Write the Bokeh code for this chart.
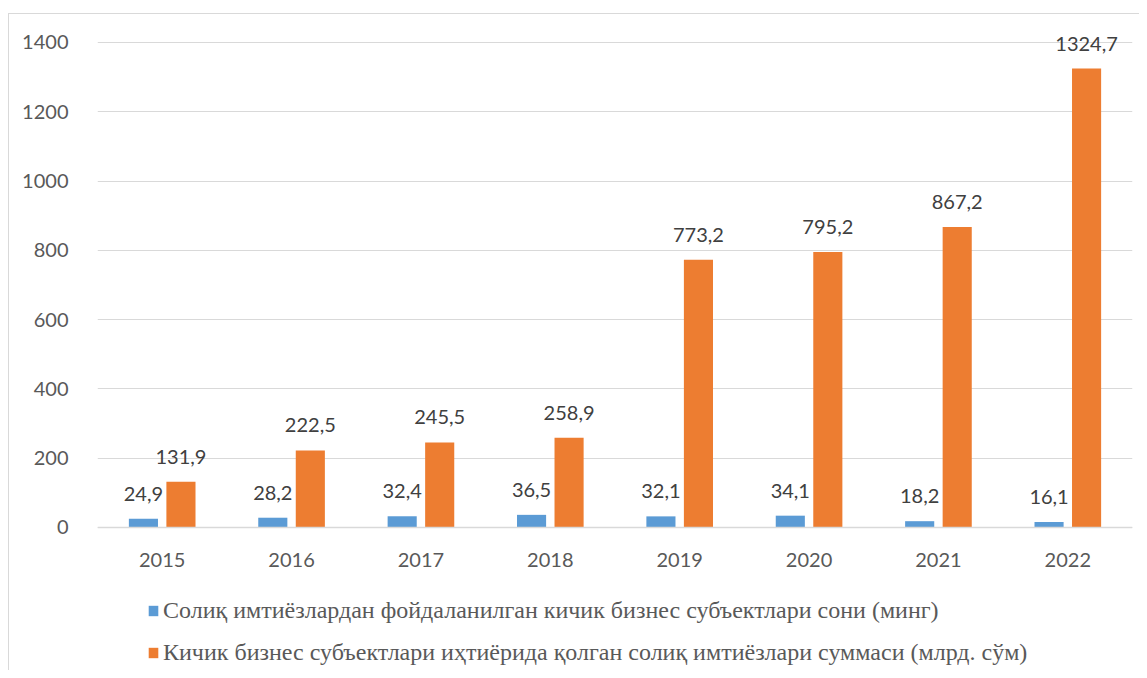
from bokeh.plotting import figure
from bokeh.models import ColumnDataSource, FactorRange, Legend, LegendItem, Range1d, FixedTicker
from bokeh.transform import dodge
from bokeh.core.properties import value
from bokeh.embed import file_html
from bokeh.resources import INLINE

years = ["2015", "2016", "2017", "2018", "2019", "2020", "2021", "2022"]
subjects = [24.9, 28.2, 32.4, 36.5, 32.1, 34.1, 18.2, 16.1]
amounts = [131.9, 222.5, 245.5, 258.9, 773.2, 795.2, 867.2, 1324.7]
series_names = [
    "Солиқ имтиёзлардан фойдаланилган кичик бизнес субъектлари сони (минг)",
    "Кичик бизнес субъектлари иҳтиёрида қолган солиқ имтиёзлари суммаси (млрд. сўм)",
]
y_ticks = [0, 200, 400, 600, 800, 1000, 1200, 1400]

def fmt(v):
    return f"{v:.1f}".replace(".", ",")

src = ColumnDataSource(dict(
    years=years,
    subjects=subjects,
    amounts=amounts,
    sub_labels=[fmt(v) for v in subjects],
    amt_labels=[fmt(v) for v in amounts],
))

BLUE = "#5B9BD5"
ORANGE = "#ED7D31"
TXT = "#595959"

# plot area extends below zero to leave room for the category labels and legend
p = figure(
    x_range=FactorRange(*years, range_padding=0),
    y_range=Range1d(-415.7, 1480.8),
    width=1131, height=657,
    output_backend="svg", toolbar_location=None,
    min_border_left=88, min_border_right=8, min_border_top=0, min_border_bottom=0,
    margin=(13, 0, 0, 8),
    styles={"border-left": "1px solid #d9d9d9", "border-top": "1px solid #d9d9d9"},
)
p.outline_line_color = None
p.background_fill_color = "white"

r1 = p.vbar(x=dodge("years", -0.145, range=p.x_range), top="subjects", width=0.225,
            source=src, fill_color=BLUE, line_color=None)
r2 = p.vbar(x=dodge("years", 0.145, range=p.x_range), top="amounts", width=0.225,
            source=src, fill_color=ORANGE, line_color=None)

p.text(x=dodge("years", -0.145, range=p.x_range), y="subjects", text="sub_labels", source=src,
       text_align="center", text_baseline="middle", y_offset=-25,
       text_font=value("Lato"), text_font_size="20px", text_color="#404040")
p.text(x=dodge("years", 0.145, range=p.x_range), y="amounts", text="amt_labels", source=src,
       text_align="center", text_baseline="middle", y_offset=-25,
       text_font=value("Lato"), text_font_size="20px", text_color="#404040")

ticker = FixedTicker(ticks=y_ticks)
p.xgrid.grid_line_color = None
p.ygrid.ticker = ticker
p.ygrid.grid_line_color = "#d9d9d9"
p.ygrid.grid_line_width = 1

p.yaxis.ticker = ticker
p.yaxis.axis_line_color = None
p.yaxis.major_tick_line_color = None
p.yaxis.minor_tick_line_color = None
p.yaxis.major_label_standoff = 23
p.yaxis.major_label_text_font = "Lato"
p.yaxis.major_label_text_font_size = "20px"
p.yaxis.major_label_text_color = TXT

p.xaxis.fixed_location = 0
p.xaxis.axis_line_color = "#d9d9d9"
p.xaxis.axis_line_width = 1.5
p.xaxis.major_tick_line_color = None
p.xaxis.minor_tick_line_color = None
p.xaxis.major_label_standoff = 20
p.xaxis.major_label_text_font = "Lato"
p.xaxis.major_label_text_font_size = "20px"
p.xaxis.major_label_text_color = TXT

legend = Legend(
    items=[LegendItem(label=series_names[0], renderers=[r1]),
           LegendItem(label=series_names[1], renderers=[r2])],
    location=(50, 5), orientation="vertical",
    border_line_color=None, background_fill_alpha=0,
    padding=0, margin=0, label_standoff=4,
    glyph_width=12, glyph_height=13, label_height=28, spacing=14,
    label_text_font="Liberation Serif", label_text_font_size="24px",
    label_text_color=TXT,
)
p.add_layout(legend)

open("out.html", "w").write(file_html(p, INLINE))
